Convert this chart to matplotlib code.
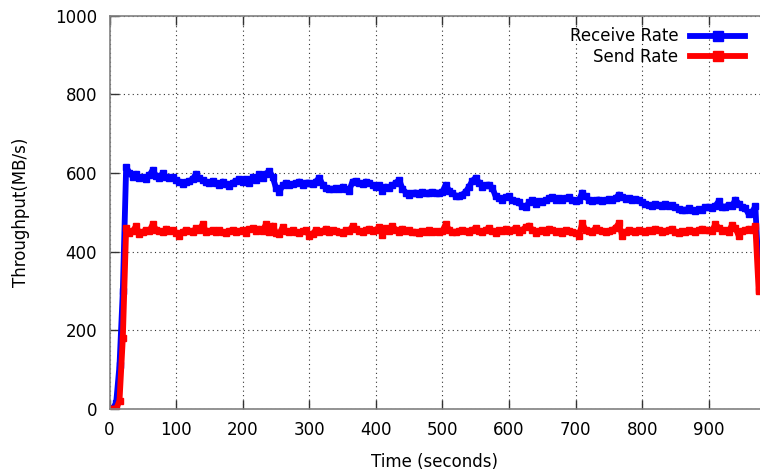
import numpy as np
import matplotlib.pyplot as plt

# throughput samples, one every 5 seconds
t = np.arange(0, 980, 5)

recv = [0, 0, 15, 110, 300, 615,
        600, 590, 598, 586, 590, 585, 594, 608, 592, 588, 600, 590, 586, 590,
        582, 578, 572, 576, 580, 584, 598, 586, 582, 578, 575, 580, 574, 570, 578, 572, 566, 575, 580, 584,
        578, 585, 575, 590, 582, 596, 588, 598, 605, 590, 562, 552, 568, 575, 570, 572, 574, 578, 570, 575,
        575, 572, 578, 588, 570, 562, 560, 558, 562, 560, 565, 560, 555, 578, 580, 575, 572, 578, 575, 568,
        565, 568, 555, 565, 562, 568, 575, 582, 560, 550, 545, 548, 550, 546, 552, 548, 550, 552, 550, 548,
        552, 570, 555, 548, 542, 540, 545, 552, 565, 580, 588, 575, 565, 568, 570, 562, 540, 535, 532, 538,
        540, 530, 528, 525, 515, 512, 525, 530, 522, 528, 526, 530, 535, 538, 532, 536, 530, 535, 538, 532,
        528, 530, 550, 540, 532, 528, 530, 532, 528, 530, 534, 530, 535, 545, 538, 534, 536, 530, 534, 532,
        525, 520, 518, 516, 520, 518, 515, 520, 516, 518, 512, 508, 506, 505, 510, 506, 504, 508, 506, 512,
        514, 510, 516, 528, 512, 514, 518, 515, 532, 522, 514, 510, 495, 500, 515, 345]

send = [0, 0, 0, 20, 180, 460,
        448, 452, 465, 444, 450, 455, 452, 470, 455, 452, 450, 458, 452, 455,
        448, 440, 450, 455, 452, 450, 460, 455, 470, 450, 452, 455, 450, 454, 450, 446, 452, 455, 450, 452,
        455, 448, 456, 460, 452, 458, 452, 470, 450, 466, 448, 445, 462, 452, 450, 455, 450, 448, 452, 455,
        440, 445, 455, 450, 452, 458, 450, 455, 452, 450, 448, 455, 452, 465, 456, 452, 450, 455, 458, 452,
        455, 462, 442, 460, 452, 465, 455, 450, 458, 452, 455, 450, 450, 448, 452, 450, 455, 450, 452, 450,
        452, 470, 455, 450, 450, 452, 455, 452, 450, 455, 460, 452, 450, 455, 460, 452, 448, 455, 452, 458,
        452, 455, 460, 450, 455, 462, 466, 455, 448, 452, 455, 450, 458, 455, 450, 452, 448, 455, 452, 450,
        448, 440, 472, 455, 452, 450, 460, 455, 452, 450, 452, 455, 460, 472, 440, 450, 455, 452, 450, 455,
        452, 450, 455, 452, 458, 455, 450, 452, 455, 458, 450, 448, 452, 450, 455, 452, 450, 455, 458, 455,
        455, 452, 470, 460, 452, 455, 450, 468, 460, 440, 452, 455, 458, 455, 465, 300]

plt.rcParams['font.family'] = 'DejaVu Sans'
plt.rcParams['font.size'] = 12

fig = plt.figure(figsize=(7.6, 4.7), dpi=100)
ax = fig.add_axes([0.1441, 0.1304, 0.8559, 0.8362])

ax.plot(t, recv, color='#0000ff', lw=4.2, marker='s', ms=5, label='Receive Rate')
ax.plot(t, send, color='#ff0000', lw=4.2, marker='s', ms=5, label='Send Rate')

ax.set_xlim(0, 977)
ax.set_ylim(0, 1000)
ax.set_xticks(np.arange(0, 901, 100))
ax.set_yticks(np.arange(0, 1001, 200))

ax.grid(True, color='#333333', linestyle=(0, (1, 3)), linewidth=0.8)
ax.tick_params(direction='in', length=6.5, width=1, color='#333333', pad=9,
               top=True, right=False)
for side in ['left', 'bottom', 'top']:
    ax.spines[side].set_color('#808080')
    ax.spines[side].set_linewidth(1.2)
ax.spines['right'].set_visible(False)

ax.set_xlabel('Time (seconds)', labelpad=10)
ax.set_ylabel('Throughput(MB/s)', labelpad=18)

ax.legend(loc='upper right', bbox_to_anchor=(0.995, 1.0), frameon=False,
          markerfirst=False, numpoints=1, handlelength=3.3, handletextpad=0.7,
          labelspacing=0.15, borderpad=0.2, markerscale=1.4)

fig.savefig('out.png', dpi=100)
